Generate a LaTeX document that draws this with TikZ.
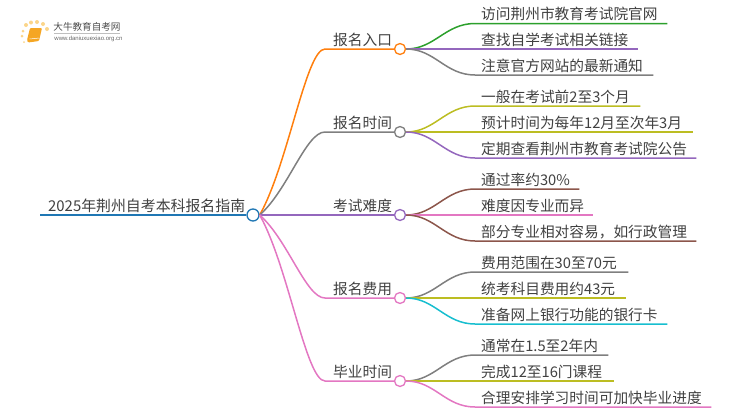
\documentclass[tikz,border=0pt]{standalone}
\usepackage{fontspec}
\setmainfont{Noto Sans CJK SC}
\newfontfamily\urlfont{Liberation Sans}
\usetikzlibrary{calc,positioning}
\definecolor{tabblue}{HTML}{1F77B4}
\definecolor{taborange}{HTML}{FF7F0E}
\definecolor{tabgreen}{HTML}{2CA02C}
\definecolor{tabpurple}{HTML}{9467BD}
\definecolor{tabbrown}{HTML}{8C564B}
\definecolor{tabpink}{HTML}{E377C2}
\definecolor{tabgray}{HTML}{7F7F7F}
\definecolor{tabolive}{HTML}{BCBD22}
\definecolor{tabcyan}{HTML}{17BECF}
\definecolor{booktone}{HTML}{F5A623}
\definecolor{dottone}{HTML}{FBD58A}
\tikzstyle{label}=[anchor=south west, inner xsep=0, inner ysep=0, text depth=3.6pt, align=left,
		text=black!75, font=\fontsize{14.7}{17}\selectfont]
\tikzstyle{leaf}=[label, execute at begin node=\hspace*{6pt}]
\tikzstyle{branch}=[label, text width=69pt, execute at begin node=\hspace*{8pt}]
\tikzstyle{hub}=[draw, circle, fill=white, inner sep=0, minimum width=11pt, line width=1.3pt]
\tikzstyle{link}=[line width=1.5pt]
\tikzstyle{dotlet}=[fill=dottone, circle, inner sep=0, minimum width=4pt]

\begin{document}
\begin{tikzpicture}[x=1pt, y=-1pt]
        \useasboundingbox (0,0) rectangle (750,410);

        \node[dotlet] (s1) at (26,25) {};
        \node[dotlet] (s2) at (31,22.5) {};
        \node[dotlet] (s3) at (37,22) {};
        \node[dotlet] (s4) at (43,24) {};
        \node[dotlet] (s5) at (47,29) {};
        \node[dotlet, minimum width=3pt] (s6) at (23,31) {};
        \node[dotlet, minimum width=3pt] (s7) at (22,36) {};
        \node[dotlet, minimum width=2pt] (s8) at (24,42) {};
        \fill[booktone, rounded corners=1pt] (30,28) -- (42,28) -- (39,41) -- (28,42.5) -- (27,40) -- cycle;
        \draw[white, line width=0.5pt] (29.5,39) -- (39.5,38);
        \node[text=black!70, inner sep=0, font=\fontsize{9.6}{11}\selectfont] (logoname) at (87,27) {大牛教育自考网};
        \draw[black!25, line width=0.6pt] (54,33.3) -- (120,33.3);
        \node[text=black!60, inner sep=0, font=\urlfont\fontsize{6}{7}\selectfont] (logourl) at (88.5,39) {www.daniuxuexiao.org.cn};

        \node[label, text width=207pt, execute at begin node=\hspace*{8pt}, font=\fontsize{14.9}{17}\selectfont] (title) at (40,215) {2025年荆州自考本科报名指南};
        \node[hub, draw=tabblue, minimum width=12pt] (root) at (253,215) {};
        \draw[link, tabblue] (title.south west) -- (root.west);

        \node[branch] (entry) at (325,49) {报名入口};
        \node[branch] (time) at (325,132) {报名时间};
        \node[branch] (hard) at (325,215) {考试难度};
        \node[branch] (cost) at (325,298) {报名费用};
        \node[branch] (grad) at (325,381) {毕业时间};
        \node[hub, draw=taborange] (entryhub) at (400,49) {};
        \node[hub, draw=tabgray] (timehub) at (400,132) {};
        \node[hub, draw=tabpurple] (hardhub) at (400,215) {};
        \node[hub, draw=tabpink] (costhub) at (400,298) {};
        \node[hub, draw=tabpink] (gradhub) at (400,381) {};

        \draw[link, taborange] (root.east) .. controls (288,165) and (306,49) .. (entry.south west) -- (entryhub.west);
        \draw[link, tabgray] (root.east) .. controls (288,190) and (306,132) .. (time.south west) -- (timehub.west);
        \draw[link, tabpurple] (root.east) -- (hardhub.west);
        \draw[link, tabpink] (root.east) .. controls (288,240) and (306,298) .. (cost.south west) -- (costhub.west);
        \draw[link, tabpink] (root.east) .. controls (288,265) and (306,381) .. (grad.south west) -- (gradhub.west);

        \node[leaf, text width=192pt] (entrya) at (475,23.5) {访问荆州市教育考试院官网};
        \node[leaf, text width=163pt] (entryb) at (475,49) {查找自学考试相关链接};
        \node[leaf, text width=178pt] (entryc) at (475,75) {注意官方网站的最新通知};
        \node[leaf, text width=165pt] (timea) at (475,106) {一般在考试前2至3个月};
        \node[leaf, text width=218pt] (timeb) at (475,132) {预计时间为每年12月至次年3月};
        \node[leaf, text width=221pt] (timec) at (475,158) {定期查看荆州市教育考试院公告};
        \node[leaf, text width=104pt] (harda) at (475,189) {通过率约30\%};
        \node[leaf, text width=118pt] (hardb) at (475,215) {难度因专业而异};
        \node[leaf, text width=221pt] (hardc) at (475,241) {部分专业相对容易，如行政管理};
        \node[leaf, text width=153pt] (costa) at (475,272) {费用范围在30至70元};
        \node[leaf, text width=151pt] (costb) at (475,298) {统考科目费用约43元};
        \node[leaf, text width=192pt] (costc) at (475,324) {准备网上银行功能的银行卡};
        \node[leaf, text width=133pt] (grada) at (475,355) {通常在1.5至2年内};
        \node[leaf, text width=139pt] (gradb) at (475,381) {完成12至16门课程};
        \node[leaf, text width=236pt] (gradc) at (475,407) {合理安排学习时间可加快毕业进度};

        \draw[link, tabgreen] (entryhub.east) .. controls (435,49) and (445,23.5) .. (entrya.south west) -- (entrya.south east);
        \draw[link, tabpurple] (entryhub.east) -- (entryb.south east);
        \draw[link, tabgray] (entryhub.east) .. controls (435,49) and (445,75) .. (entryc.south west) -- (entryc.south east);
        \draw[link, tabolive] (timehub.east) .. controls (435,132) and (445,106) .. (timea.south west) -- (timea.south east);
        \draw[link, tabolive] (timehub.east) -- (timeb.south east);
        \draw[link, tabpurple] (timehub.east) .. controls (435,132) and (445,158) .. (timec.south west) -- (timec.south east);
        \draw[link, tabbrown] (hardhub.east) .. controls (435,215) and (445,189) .. (harda.south west) -- (harda.south east);
        \draw[link, tabpink] (hardhub.east) -- (hardb.south east);
        \draw[link, tabbrown] (hardhub.east) .. controls (435,215) and (445,241) .. (hardc.south west) -- (hardc.south east);
        \draw[link, tabgray] (costhub.east) .. controls (435,298) and (445,272) .. (costa.south west) -- (costa.south east);
        \draw[link, tabolive] (costhub.east) -- (costb.south east);
        \draw[link, tabcyan] (costhub.east) .. controls (435,298) and (445,324) .. (costc.south west) -- (costc.south east);
        \draw[link, tabgray] (gradhub.east) .. controls (435,381) and (445,355) .. (grada.south west) -- (grada.south east);
        \draw[link, tabolive] (gradhub.east) -- (gradb.south east);
        \draw[link, tabpink] (gradhub.east) .. controls (435,381) and (445,407) .. (gradc.south west) -- (gradc.south east);
    \end{tikzpicture}
\end{document}
